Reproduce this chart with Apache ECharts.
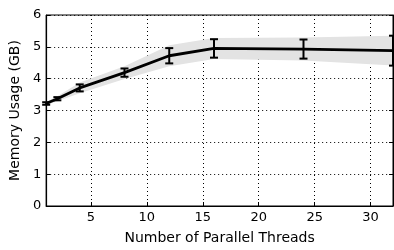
<!DOCTYPE html>
<html>
<head>
<meta charset="utf-8">
<script src="https://cdn.jsdelivr.net/npm/echarts@6/dist/echarts.min.js"></script>
<style>
  html, body { margin: 0; padding: 0; background: #fff; }
  #chart { width: 394px; height: 250px; }
</style>
</head>
<body>
<div id="chart"></div>
<script>
// memory usage vs. number of threads
var threads  = [1, 2, 4, 8, 12, 16, 24, 32];
var memMean  = [3.22, 3.37, 3.71, 4.19, 4.72, 4.95, 4.93, 4.88];
var memErr   = [0.04, 0.05, 0.11, 0.13, 0.24, 0.29, 0.30, 0.47];
var bandHalf = [0.05, 0.08, 0.17, 0.20, 0.33, 0.33, 0.36, 0.47];
var xTicks = [5, 10, 15, 20, 25, 30];

var lineData = [];
var errData = [];
var bandData = [];
for (var i = 0; i < threads.length; i++) {
    lineData.push([threads[i], memMean[i]]);
    errData.push([threads[i], memMean[i] - memErr[i], memMean[i] + memErr[i]]);
    bandData.push([threads[i], memMean[i] - bandHalf[i], memMean[i] + bandHalf[i]]);
}

var chart = echarts.init(document.getElementById('chart'));
var font = 'DejaVu Sans';

var option = {
    backgroundColor: '#fff',
    animation: false,
    grid: {
        left: 43, right: 1, top: 15, bottom: 39,
        show: true, borderColor: '#000', borderWidth: 1
    },
    xAxis: {
        type: 'value',
        min: 1, max: 32,
        name: 'Number of Parallel Threads',
        nameLocation: 'middle',
        nameGap: 25,
        nameTextStyle: { fontFamily: font, fontSize: 14, color: '#000' },
        axisLine: { lineStyle: { color: '#000', width: 1.2 } },
        axisTick: { inside: true, length: 4, customValues: xTicks, lineStyle: { color: '#000' } },
        axisLabel: { customValues: xTicks, fontFamily: font, fontSize: 13, color: '#000', margin: 5 },
        splitLine: { show: true, lineStyle: { color: '#000', type: [1, 3], width: 1 } }
    },
    yAxis: [{
        type: 'value',
        min: 0, max: 6, interval: 1,
        name: 'Memory Usage (GB)',
        nameLocation: 'middle',
        nameGap: 20,
        nameTextStyle: { fontFamily: font, fontSize: 14, color: '#000' },
        axisLine: { show: true, lineStyle: { color: '#000', width: 1.2 } },
        axisTick: { show: true, inside: true, length: 4, lineStyle: { color: '#000' } },
        axisLabel: { fontFamily: font, fontSize: 13, color: '#000', margin: 5 },
        splitLine: { show: true, lineStyle: { color: '#000', type: [1, 3], width: 1 } }
    }, {
        type: 'value',
        position: 'right',
        min: 0, max: 6, interval: 1,
        axisLine: { show: true, lineStyle: { color: '#000' } },
        axisTick: { show: true, inside: true, length: 4, lineStyle: { color: '#000' } },
        axisLabel: { show: false },
        splitLine: { show: false }
    }],
    series: [{
        // shaded band
        type: 'custom',
        data: [0],
        z: 1,
        clip: true,
        renderItem: function (params, api) {
            var pts = [];
            for (var k = 0; k < bandData.length; k++) {
                pts.push(api.coord([bandData[k][0], bandData[k][2]]));
            }
            for (var k = bandData.length - 1; k >= 0; k--) {
                pts.push(api.coord([bandData[k][0], bandData[k][1]]));
            }
            return {
                type: 'polygon',
                shape: { points: pts },
                style: { fill: '#e3e3e3', stroke: null }
            };
        }
    }, {
        type: 'line',
        data: lineData,
        symbol: 'none',
        z: 3,
        lineStyle: { color: '#000', width: 2.8 }
    }, {
        // error bars
        type: 'custom',
        data: errData,
        z: 4,
        clip: false,
        renderItem: function (params, api) {
            var lo = api.coord([api.value(0), api.value(1)]);
            var hi = api.coord([api.value(0), api.value(2)]);
            var w = 4;
            var st = { stroke: '#000', lineWidth: 2 };
            return {
                type: 'group',
                children: [
                    { type: 'line', shape: { x1: lo[0], y1: lo[1], x2: hi[0], y2: hi[1] }, style: st },
                    { type: 'line', shape: { x1: lo[0] - w, y1: lo[1], x2: lo[0] + w, y2: lo[1] }, style: st },
                    { type: 'line', shape: { x1: hi[0] - w, y1: hi[1], x2: hi[0] + w, y2: hi[1] }, style: st }
                ]
            };
        }
    }]
};

chart.setOption(option);
</script>
</body>
</html>
